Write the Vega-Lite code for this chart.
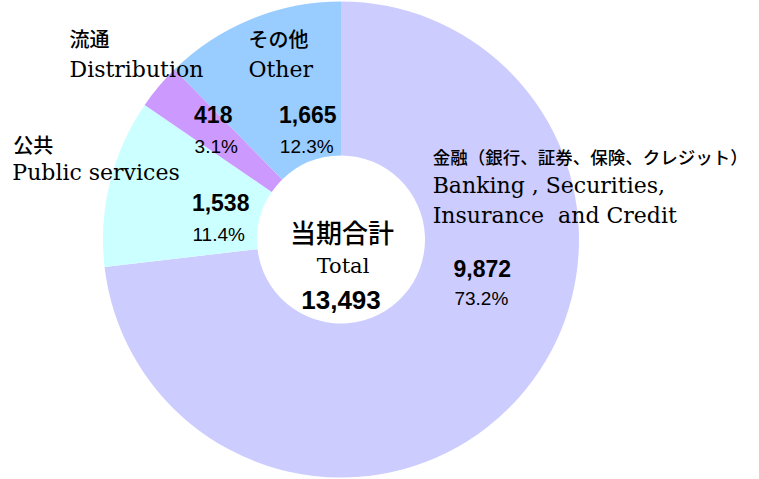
{
  "$schema": "https://vega.github.io/schema/vega-lite/v6.json",
  "width": 682,
  "height": 479,
  "autosize": {"type": "none"},
  "padding": {"left": 0, "top": 0, "right": 77, "bottom": 0},
  "background": "white",
  "config": {"view": {"stroke": null}},
  "data": {
    "values": [
      {"cat": "Banking", "ja": "金融（銀行、証券、保険、クレジット）", "en": "Banking , Securities,\n\u2002Insurance\u00a0\u00a0and Credit", "value": 9872, "pct": 0.732},
      {"cat": "Public", "ja": "公共", "en": "Public services", "value": 1538, "pct": 0.114},
      {"cat": "Distribution", "ja": "流通", "en": "Distribution", "value": 418, "pct": 0.031},
      {"cat": "Other", "ja": "その他", "en": "Other", "value": 1665, "pct": 0.123}
    ]
  },
  "transform": [{"window": [{"op": "row_number", "as": "idx"}]}],
  "layer": [
    {
      "mark": {"type": "arc", "outerRadius": 238, "innerRadius": 84},
      "encoding": {
        "theta": {"field": "value", "type": "quantitative", "stack": true},
        "order": {"field": "idx", "type": "quantitative"},
        "color": {"field": "cat", "type": "nominal", "legend": null,
          "scale": {"domain": ["Banking", "Public", "Distribution", "Other"], "range": ["#CCCCFF", "#CCFFFF", "#CC99FF", "#99CCFF"]}}
      }
    },
    {"mark": {"type": "text", "radius": 125, "dx": 48, "dy": -53, "align": "center", "baseline": "middle", "font": "Liberation Sans", "fontWeight": "bold", "fontSize": 23, "color": "#000"},
     "encoding": {"theta": {"field": "value", "type": "quantitative", "stack": true}, "order": {"field": "idx", "type": "quantitative"},
       "text": {"condition": {"test": "datum.cat === 'Banking'", "field": "value", "type": "quantitative", "format": ","}, "value": ""}}},
    {"mark": {"type": "text", "radius": 125, "dx": 1, "dy": -5, "align": "center", "baseline": "middle", "font": "Liberation Sans", "fontWeight": "bold", "fontSize": 23, "color": "#000"},
     "encoding": {"theta": {"field": "value", "type": "quantitative", "stack": true}, "order": {"field": "idx", "type": "quantitative"},
       "text": {"condition": {"test": "datum.cat === 'Public'", "field": "value", "type": "quantitative", "format": ","}, "value": ""}}},
    {"mark": {"type": "text", "radius": 125, "dx": -32, "dy": -43, "align": "center", "baseline": "middle", "font": "Liberation Sans", "fontWeight": "bold", "fontSize": 23, "color": "#000"},
     "encoding": {"theta": {"field": "value", "type": "quantitative", "stack": true}, "order": {"field": "idx", "type": "quantitative"},
       "text": {"condition": {"test": "datum.cat === 'Distribution'", "field": "value", "type": "quantitative", "format": ","}, "value": ""}}},
    {"mark": {"type": "text", "radius": 125, "dx": 14, "dy": -8, "align": "center", "baseline": "middle", "font": "Liberation Sans", "fontWeight": "bold", "fontSize": 23, "color": "#000"},
     "encoding": {"theta": {"field": "value", "type": "quantitative", "stack": true}, "order": {"field": "idx", "type": "quantitative"},
       "text": {"condition": {"test": "datum.cat === 'Other'", "field": "value", "type": "quantitative", "format": ","}, "value": ""}}},
    {"mark": {"type": "text", "radius": 125, "dx": 47, "dy": -24, "align": "center", "baseline": "middle", "font": "Liberation Sans", "fontSize": 19, "color": "#000"},
     "encoding": {"theta": {"field": "value", "type": "quantitative", "stack": true}, "order": {"field": "idx", "type": "quantitative"},
       "text": {"condition": {"test": "datum.cat === 'Banking'", "field": "pct", "type": "quantitative", "format": ".1%"}, "value": ""}}},
    {"mark": {"type": "text", "radius": 125, "dx": -1, "dy": 26, "align": "center", "baseline": "middle", "font": "Liberation Sans", "fontSize": 19, "color": "#000"},
     "encoding": {"theta": {"field": "value", "type": "quantitative", "stack": true}, "order": {"field": "idx", "type": "quantitative"},
       "text": {"condition": {"test": "datum.cat === 'Public'", "field": "pct", "type": "quantitative", "format": ".1%"}, "value": ""}}},
    {"mark": {"type": "text", "radius": 125, "dx": -29, "dy": -12, "align": "center", "baseline": "middle", "font": "Liberation Sans", "fontSize": 19, "color": "#000"},
     "encoding": {"theta": {"field": "value", "type": "quantitative", "stack": true}, "order": {"field": "idx", "type": "quantitative"},
       "text": {"condition": {"test": "datum.cat === 'Distribution'", "field": "pct", "type": "quantitative", "format": ".1%"}, "value": ""}}},
    {"mark": {"type": "text", "radius": 125, "dx": 13, "dy": 23, "align": "center", "baseline": "middle", "font": "Liberation Sans", "fontSize": 19, "color": "#000"},
     "encoding": {"theta": {"field": "value", "type": "quantitative", "stack": true}, "order": {"field": "idx", "type": "quantitative"},
       "text": {"condition": {"test": "datum.cat === 'Other'", "field": "pct", "type": "quantitative", "format": ".1%"}, "value": ""}}},
    {"mark": {"type": "text", "radius": 250, "dx": -95, "dy": -246.5, "align": "left", "baseline": "middle", "font": "Noto Sans CJK JP", "fontWeight": 500, "fontSize": 17.5, "color": "#000"},
     "encoding": {"theta": {"field": "value", "type": "quantitative", "stack": true}, "order": {"field": "idx", "type": "quantitative"},
       "text": {"condition": {"test": "datum.cat === 'Banking'", "field": "ja", "type": "nominal"}, "value": ""}}},
    {"mark": {"type": "text", "radius": 250, "dx": -85, "dy": -32.5, "align": "left", "baseline": "middle", "font": "Noto Sans CJK JP", "fontWeight": 500, "fontSize": 20, "color": "#000"},
     "encoding": {"theta": {"field": "value", "type": "quantitative", "stack": true}, "order": {"field": "idx", "type": "quantitative"},
       "text": {"condition": {"test": "datum.cat === 'Public'", "field": "ja", "type": "nominal"}, "value": ""}}},
    {"mark": {"type": "text", "radius": 250, "dx": -80, "dy": -37.5, "align": "left", "baseline": "middle", "font": "Noto Sans CJK JP", "fontWeight": 500, "fontSize": 20, "color": "#000"},
     "encoding": {"theta": {"field": "value", "type": "quantitative", "stack": true}, "order": {"field": "idx", "type": "quantitative"},
       "text": {"condition": {"test": "datum.cat === 'Distribution'", "field": "ja", "type": "nominal"}, "value": ""}}},
    {"mark": {"type": "text", "radius": 250, "dx": 2, "dy": 32.5, "align": "left", "baseline": "middle", "font": "Noto Sans CJK JP", "fontWeight": 500, "fontSize": 20, "color": "#000"},
     "encoding": {"theta": {"field": "value", "type": "quantitative", "stack": true}, "order": {"field": "idx", "type": "quantitative"},
       "text": {"condition": {"test": "datum.cat === 'Other'", "field": "ja", "type": "nominal"}, "value": ""}}},
    {"mark": {"type": "text", "radius": 250, "dx": -95, "dy": -213, "align": "left", "baseline": "alphabetic", "lineBreak": "\n", "lineHeight": 30, "font": "DejaVu Serif", "fontSize": 22, "color": "#000"},
     "encoding": {"theta": {"field": "value", "type": "quantitative", "stack": true}, "order": {"field": "idx", "type": "quantitative"},
       "text": {"condition": {"test": "datum.cat === 'Banking'", "field": "en", "type": "nominal"}, "value": ""}}},
    {"mark": {"type": "text", "radius": 250, "dx": -86, "dy": 1, "align": "left", "baseline": "alphabetic", "font": "DejaVu Serif", "fontSize": 22, "color": "#000"},
     "encoding": {"theta": {"field": "value", "type": "quantitative", "stack": true}, "order": {"field": "idx", "type": "quantitative"},
       "text": {"condition": {"test": "datum.cat === 'Public'", "field": "en", "type": "nominal"}, "value": ""}}},
    {"mark": {"type": "text", "radius": 250, "dx": -80, "dy": -2, "align": "left", "baseline": "alphabetic", "font": "DejaVu Serif", "fontSize": 22, "color": "#000"},
     "encoding": {"theta": {"field": "value", "type": "quantitative", "stack": true}, "order": {"field": "idx", "type": "quantitative"},
       "text": {"condition": {"test": "datum.cat === 'Distribution'", "field": "en", "type": "nominal"}, "value": ""}}},
    {"mark": {"type": "text", "radius": 250, "dx": 2, "dy": 69, "align": "left", "baseline": "alphabetic", "font": "DejaVu Serif", "fontSize": 22, "color": "#000"},
     "encoding": {"theta": {"field": "value", "type": "quantitative", "stack": true}, "order": {"field": "idx", "type": "quantitative"},
       "text": {"condition": {"test": "datum.cat === 'Other'", "field": "en", "type": "nominal"}, "value": ""}}},
    {"transform": [{"aggregate": [{"op": "sum", "field": "value", "as": "total"}]}],
     "mark": {"type": "text", "dx": 1, "dy": -5, "align": "center", "baseline": "middle", "font": "Noto Sans CJK JP", "fontWeight": 500, "fontSize": 26, "color": "#000"},
     "encoding": {"text": {"value": "当期合計"}}},
    {"transform": [{"aggregate": [{"op": "sum", "field": "value", "as": "total"}]}],
     "mark": {"type": "text", "dx": 2, "dy": 33.5, "align": "center", "baseline": "alphabetic", "font": "DejaVu Serif", "fontSize": 21, "color": "#000"},
     "encoding": {"text": {"value": "Total"}}},
    {"transform": [{"aggregate": [{"op": "sum", "field": "value", "as": "total"}]}],
     "mark": {"type": "text", "dx": 0, "dy": 61.5, "align": "center", "baseline": "middle", "font": "Liberation Sans", "fontWeight": "bold", "fontSize": 26, "color": "#000"},
     "encoding": {"text": {"field": "total", "type": "quantitative", "format": ","}}}
  ]
}
